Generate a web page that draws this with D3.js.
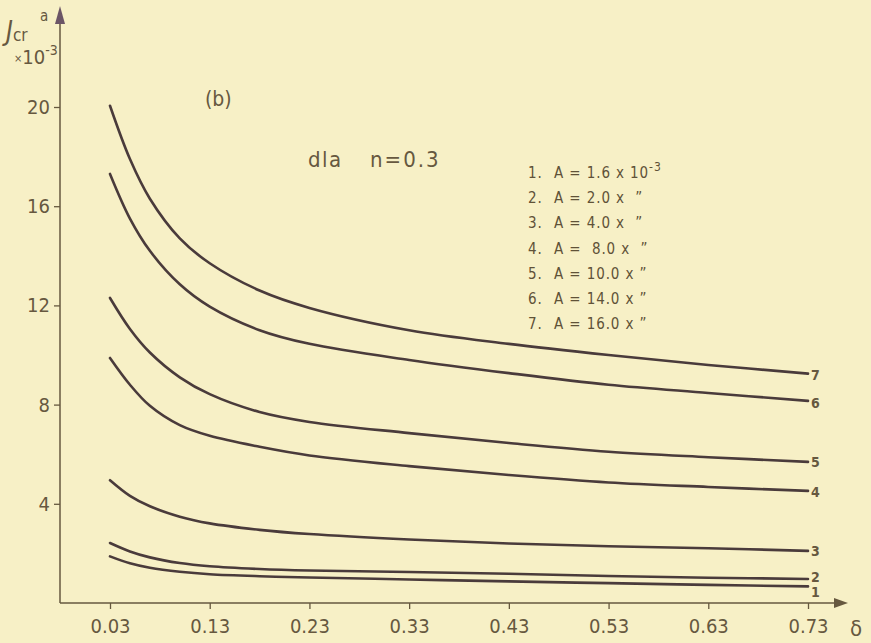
<!DOCTYPE html>
<html><head><meta charset="utf-8">
<script src="https://cdn.jsdelivr.net/npm/d3@7/dist/d3.min.js"></script>
<style>
html,body{margin:0;padding:0;background:#f7f0c6;}
svg{display:block;}
</style></head>
<body><svg id="c" width="871" height="643"></svg>
<script>
const deltas = [0.03, 0.05, 0.07, 0.10, 0.13, 0.18, 0.23, 0.33, 0.43, 0.53, 0.63, 0.73];
const curve1 = [1.88, 1.60, 1.42, 1.26, 1.16, 1.08, 1.03, 0.95, 0.87, 0.80, 0.73, 0.67];
const curve2 = [2.42, 2.08, 1.84, 1.61, 1.48, 1.37, 1.31, 1.25, 1.18, 1.09, 1.02, 0.97];
const curve3 = [4.95, 4.32, 3.90, 3.48, 3.21, 2.95, 2.78, 2.56, 2.40, 2.29, 2.21, 2.10];
const curve4 = [9.88, 8.80, 7.95, 7.17, 6.74, 6.30, 5.95, 5.52, 5.16, 4.86, 4.68, 4.52];
const curve5 = [12.3, 11.05, 10.1, 9.10, 8.42, 7.70, 7.30, 6.85, 6.45, 6.10, 5.88, 5.69];
const curve6 = [17.3, 15.5, 14.2, 12.85, 11.95, 11.0, 10.45, 9.80, 9.27, 8.80, 8.47, 8.15];
const curve7 = [20.05, 17.9, 16.3, 14.7, 13.7, 12.6, 11.9, 11.0, 10.45, 10.0, 9.60, 9.25];
const curves = [curve1, curve2, curve3, curve4, curve5, curve6, curve7];
const curveLabels = ["1","2","3","4","5","6","7"];
const xTicks = [0.03, 0.13, 0.23, 0.33, 0.43, 0.53, 0.63, 0.73];
const yTicks = [4, 8, 12, 16, 20];
const legendItems = [
  ["1.", "A = 1.6 x 10", "-3"],
  ["2.", "A = 2.0 x  \u201d", ""],
  ["3.", "A = 4.0 x  \u201d", ""],
  ["4.", "A =  8.0 x  \u201d", ""],
  ["5.", "A = 10.0 x \u201d", ""],
  ["6.", "A = 14.0 x \u201d", ""],
  ["7.", "A = 16.0 x \u201d", ""]
];

const ink = "#4a3b3b";
const txt = "#66583f";
const font = "'DejaVu Sans Condensed','DejaVu Sans',sans-serif";

const svg = d3.select("#c");
const x = d3.scaleLinear().domain([0.03, 0.73]).range([110, 808]);
const y = d3.scaleLinear().domain([0, 20]).range([603, 107]);

// axes
const xAxis = d3.axisBottom(x).tickValues(xTicks).tickSize(6).tickFormat(d3.format(".2f"));
const gx = svg.append("g").attr("transform", "translate(0,603)").call(xAxis);
gx.select(".domain").remove();
gx.selectAll(".tick line").attr("stroke", txt).attr("stroke-width", 1.3);
gx.selectAll(".tick text").attr("fill", txt).attr("font-family", font)
  .attr("font-size", 20).attr("dy", "1.05em");
svg.append("line").attr("x1", 60).attr("x2", 845).attr("y1", 603).attr("y2", 603)
  .attr("stroke", txt).attr("stroke-width", 1.5);
svg.append("path").attr("d", "M848,603 L834,598 L834,608 Z").attr("fill", txt);

const yAxis = d3.axisLeft(y).tickValues(yTicks).tickSize(6).tickFormat(d3.format("d"));
const gy = svg.append("g").attr("transform", "translate(60,0)").call(yAxis);
gy.select(".domain").remove();
gy.selectAll(".tick line").attr("stroke", txt).attr("stroke-width", 1.3);
gy.selectAll(".tick text").attr("fill", txt).attr("font-family", font)
  .attr("font-size", 20).attr("x", -10);
svg.append("line").attr("x1", 60).attr("x2", 60).attr("y1", 603).attr("y2", 22)
  .attr("stroke", txt).attr("stroke-width", 1.5);
svg.append("path").attr("d", "M60,6 L55,24 L65,24 Z").attr("fill", "#6b5566");

// curves
const line = d3.line().x((d, i) => x(deltas[i])).y(d => y(d)).curve(d3.curveCatmullRom.alpha(0.5));
svg.append("g").selectAll("path").data(curves).join("path")
  .attr("d", d => line(d)).attr("fill", "none").attr("stroke", ink)
  .attr("stroke-width", 2.6).attr("stroke-linecap", "round");

// end labels
const endOffsets = [6, -2, 0, 1, 0, 2, 1];
svg.append("g").selectAll("text").data(curves).join("text")
  .attr("x", 811).attr("y", (d, i) => y(d[d.length - 1]) + 5 + endOffsets[i])
  .text((d, i) => curveLabels[i]).attr("fill", txt).attr("font-family", font)
  .attr("font-size", 14).attr("font-weight", "bold");

// legend
const lg = svg.append("g").attr("font-family", font).attr("font-size", 15)
  .attr("fill", "#5f5238").attr("letter-spacing", 0.9);
legendItems.forEach((it, i) => {
  const yy = 178 + i * 25.2;
  lg.append("text").attr("x", 528).attr("y", yy).text(it[0]);
  const t = lg.append("text").attr("x", 554).attr("y", yy).attr("xml:space", "preserve").text(it[1]);
  if (it[2]) t.append("tspan").attr("dy", -7).attr("font-size", 12).text(it[2]);
});

// annotations
svg.append("text").attr("x", 205).attr("y", 106).text("(b)").attr("fill", txt)
  .attr("font-family", font).attr("font-size", 21);
svg.append("text").attr("x", 308).attr("y", 167).text("dla").attr("fill", txt)
  .attr("font-family", font).attr("font-size", 22).attr("letter-spacing", 1.5);
svg.append("text").attr("x", 370).attr("y", 167).text("n=0.3").attr("fill", txt)
  .attr("font-family", font).attr("font-size", 22).attr("letter-spacing", 2);

// y axis title
const yt = svg.append("text").attr("x", 6).attr("y", 40).attr("fill", txt)
  .attr("font-family", font).attr("font-size", 26).attr("font-style", "italic");
yt.append("tspan").text("J");
yt.append("tspan").attr("font-size", 17).attr("font-style", "normal").attr("dy", 1).text("cr");
svg.append("text").attr("x", 40).attr("y", 21).text("a").attr("fill", txt)
  .attr("font-family", font).attr("font-size", 15);
const yt2 = svg.append("text").attr("x", 14).attr("y", 64).attr("fill", txt)
  .attr("font-family", font).attr("font-size", 20);
yt2.append("tspan").attr("font-size", 11).attr("dy", -2).text("\u00d7");
yt2.append("tspan").attr("dy", 2).text("10");
yt2.append("tspan").attr("font-size", 14).attr("dy", -9).text("-3");

// x axis label
svg.append("text").attr("x", 850).attr("y", 636).text("\u03b4").attr("fill", txt)
  .attr("font-family", font).attr("font-size", 22);
</script>
</body></html>
